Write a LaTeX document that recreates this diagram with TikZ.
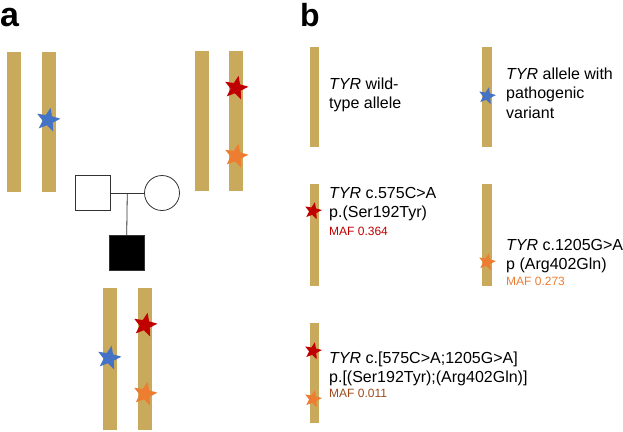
\documentclass[tikz,border=0pt]{standalone}
\usepackage{fontspec}
\setmainfont{Liberation Sans}
\usetikzlibrary{shapes.geometric}
\definecolor{chromtan}{RGB}{201,170,92}
\definecolor{varred}{RGB}{192,0,0}
\definecolor{varorange}{RGB}{237,125,49}
\definecolor{varblue}{RGB}{68,114,196}
\definecolor{mafbrown}{RGB}{158,74,28}
\begin{document}
\begin{tikzpicture}[x=1pt,y=-1pt]
\tikzstyle{chrom}=[fill=chromtan]%
\tikzstyle{var}=[star,star points=5,star point ratio=2.3,inner sep=0pt,minimum size=25,rotate=-12]%
\tikzstyle{smallvar}=[var,minimum size=18]%
\tikzstyle{ped}=[draw=black!80,line width=0.8pt,inner sep=0pt,minimum size=35]%
\tikzstyle{allele}=[anchor=west,align=left,inner sep=0pt,font=\fontsize{16}{19.5}\selectfont]%
\tikzstyle{maf}=[anchor=west,inner sep=0pt,font=\fontsize{12}{14}\selectfont]%
\tikzstyle{panel}=[anchor=base west,inner sep=0pt,font=\fontsize{32}{32}\selectfont\bfseries]%
\useasboundingbox (0,0) rectangle (623,431);
% panel a
\node[panel,font=\fontsize{34}{34}\selectfont\bfseries] (la) at (0,26) {a};
% father chromosomes
\fill[chrom] (7,52) rectangle (21,192);
\fill[chrom] (42,52) rectangle (56,192);
\node[var,fill=varblue] (fb) at (48,120) {};
% mother chromosomes
\fill[chrom] (195,51) rectangle (209,191);
\fill[chrom] (229,51) rectangle (243,191);
\node[var,fill=varred] (mr) at (236,88) {};
\node[var,fill=varorange] (mo) at (236,156) {};
% pedigree
\node[ped] (father) at (92.5,193) {};
\node[ped,circle] (mother) at (162,193) {};
\node[ped,fill=black] (child) at (126.5,253) {};
\draw[black!80,line width=0.8pt] (father) -- coordinate[midway] (union) (mother);
\draw[black!80,line width=0.8pt] (union) -- (child);
% child chromosomes
\fill[chrom] (103,288) rectangle (117,430);
\fill[chrom] (138,288) rectangle (152,430);
\node[var,fill=varred] (cr) at (145,325) {};
\node[var,fill=varblue] (cb) at (109,358) {};
\node[var,fill=varorange] (co) at (145,394) {};
% panel b
\node[panel] (lb) at (300,26) {b};
% wild type
\fill[chrom] (310,47) rectangle (319,147);
\node[allele] (wt) at (329,95) {\textit{TYR} wild-\\type allele};
% pathogenic
\fill[chrom] (482,47) rectangle (492,147);
\node[smallvar,fill=varblue] (pb) at (487,96) {};
\node[allele] (pt) at (506,93) {\textit{TYR} allele with\\pathogenic\\variant};
% c.575C>A
\fill[chrom] (310,184) rectangle (319,286);
\node[smallvar,fill=varred] (sr) at (313,211) {};
\node[allele] (st) at (329,204) {\textit{TYR} c.575C>A\\p.(Ser192Tyr)};
\node[maf,text=varred] (sm) at (329,231) {MAF 0.364};
% c.1205G>A
\fill[chrom] (482,184) rectangle (492,286);
\node[smallvar,fill=varorange] (ao) at (487,262) {};
\node[allele] (at) at (506,256) {\textit{TYR} c.1205G>A\\p (Arg402Gln)};
\node[maf,text=varorange] (am) at (506,281) {MAF 0.273};
% both
\fill[chrom] (310,323) rectangle (319,423);
\node[smallvar,fill=varred] (br) at (313,351) {};
\node[smallvar,fill=varorange] (bo) at (313,399) {};
\node[allele] (bt) at (329,369) {\textit{TYR} c.[575C>A;1205G>A]\\p.[(Ser192Tyr);(Arg402Gln)]};
\node[maf,text=mafbrown] (bm) at (329,393) {MAF 0.011};
\end{tikzpicture}
\end{document}
